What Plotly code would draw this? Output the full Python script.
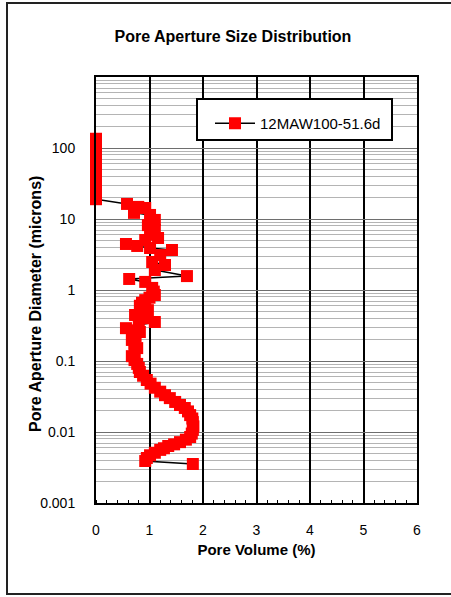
import plotly.graph_objects as go

series_name = "12MAW100-51.6d"

# Pore volume (%) and pore aperture diameter (microns), ordered large -> small diameter
pore_volume = [
    0, 0, 0, 0, 0, 0, 0, 0, 0, 0, 0, 0, 0, 0, 0,
    0.58, 0.79, 0.92, 0.71, 1.01, 1.10, 0.97, 1.10, 1.01, 1.16,
    0.92, 0.56, 0.77, 1.01, 1.42, 1.20, 1.05, 1.29, 1.10, 1.70,
    0.62, 0.92, 1.05, 1.08, 1.10, 1.00, 0.92, 0.86, 0.82, 0.90,
    0.97, 0.85, 0.73, 0.90, 1.10, 0.80, 0.56, 0.70, 0.82, 0.74,
    0.67, 0.72, 0.77, 0.72, 0.67, 0.72, 0.77, 0.80, 0.82, 0.88,
    0.95, 1.02, 1.10, 1.20, 1.29, 1.38, 1.48, 1.57, 1.66, 1.72,
    1.76, 1.80, 1.81, 1.82, 1.81, 1.79, 1.76, 1.68, 1.57, 1.46,
    1.35, 1.27, 1.20, 1.10, 1.01, 0.95, 0.92, 1.81,
]
diameter = [
    135, 120, 105, 92, 80, 70, 60, 52, 45, 39, 33, 28, 24, 21, 19,
    16.3, 14.8, 14.3, 12.2, 11.4, 9.7, 8.2, 7.0, 6.0, 5.4,
    5.06, 4.45, 4.17, 3.9, 3.66, 3.1, 2.48, 2.25, 1.91, 1.57,
    1.43, 1.30, 1.07, 0.95, 0.85, 0.78, 0.72, 0.66, 0.60, 0.56,
    0.52, 0.48, 0.445, 0.40, 0.354, 0.32, 0.29, 0.27, 0.256, 0.225,
    0.198, 0.175, 0.152, 0.134, 0.117, 0.103, 0.091, 0.080, 0.070, 0.062,
    0.054, 0.048, 0.042, 0.037, 0.033, 0.030, 0.0265, 0.024, 0.0218, 0.0195,
    0.0173, 0.0155, 0.0138, 0.012, 0.0107, 0.0095, 0.0085, 0.0078, 0.0072, 0.0067,
    0.00635, 0.0059, 0.0056, 0.0051, 0.0047, 0.0043, 0.0039, 0.00354,
]

x_ticks = [0, 1, 2, 3, 4, 5, 6]
y_ticks = [0.001, 0.01, 0.1, 1, 10, 100]
y_tick_labels = ["0.001", "0.01", "0.1", "1", "10", "100"]
y_minor_ticks = [m * 10.0 ** e for e in range(-3, 3) for m in range(2, 10)]

FONT = "Arial, Liberation Sans, sans-serif"

# plot area in pixels: left 96, right 417, top 77, bottom 503
def px_x(p):
    return (p - 96) / 321

def px_y(p):
    return (503 - p) / 426

fig = go.Figure()
fig.add_trace(go.Scatter(
    x=pore_volume, y=diameter, name=series_name,
    mode="lines+markers",
    line=dict(color="black", width=1.5),
    marker=dict(symbol="square", size=12, color="#ff0000", line=dict(width=0)),
    cliponaxis=False,
))

fig.update_layout(
    width=451, height=597,
    margin=dict(l=96, r=34, t=77, b=94),
    paper_bgcolor="white", plot_bgcolor="white",
    font=dict(family=FONT, color="black", size=14),
    title=dict(text="<b>Pore Aperture Size Distribution</b>", x=233/451, xanchor="center",
               y=1 - 36/597, yanchor="middle", font=dict(size=16, family=FONT)),
    showlegend=True,
    legend=dict(x=px_x(210), y=px_y(107), xanchor="left", yanchor="top",
                bgcolor="rgba(0,0,0,0)", borderwidth=0, itemwidth=40,
                font=dict(size=15, family=FONT)),
    xaxis=dict(
        range=[0, 6], tickvals=x_ticks, showgrid=True, gridcolor="black", gridwidth=2,
        showline=True, linecolor="black", linewidth=2, mirror=True,
        zeroline=False, ticks="", ticklabelstandoff=13,
        tickfont=dict(size=14),
        minor=dict(dtick=0.2, ticks="inside", ticklen=3, tickcolor="black", showgrid=False),
        title=dict(text="<b>Pore Volume (%)</b>", font=dict(size=15, family=FONT), standoff=8),
    ),
    yaxis=dict(
        type="log", range=[-3, 3], tickvals=y_ticks, ticktext=y_tick_labels,
        showgrid=True, gridcolor="#6e6e6e", gridwidth=1,
        minor=dict(tickvals=y_minor_ticks, showgrid=True, gridcolor="#b4b4b4", gridwidth=1, ticks=""),
        showline=True, linecolor="black", linewidth=2, mirror=True,
        zeroline=False, ticks="", ticklabelstandoff=16,
        tickfont=dict(size=14),
    ),
    annotations=[dict(text="<b>Pore Aperture Diameter (microns)</b>", textangle=-90,
                      xref="paper", yref="paper", x=px_x(35), y=px_y(304),
                      xanchor="center", yanchor="middle", showarrow=False,
                      font=dict(size=16, family=FONT))],
    shapes=[
        dict(type="rect", xref="paper", yref="paper",
             x0=px_x(7), x1=px_x(470), y0=px_y(594), y1=px_y(3),
             line=dict(color="#222222", width=2), fillcolor="rgba(0,0,0,0)", layer="below"),
        dict(type="rect", xref="paper", yref="paper",
             x0=px_x(197), x1=px_x(392), y0=px_y(140), y1=px_y(99),
             line=dict(color="black", width=2), fillcolor="white", layer="above"),
    ],
)

fig.write_html("out.html")
